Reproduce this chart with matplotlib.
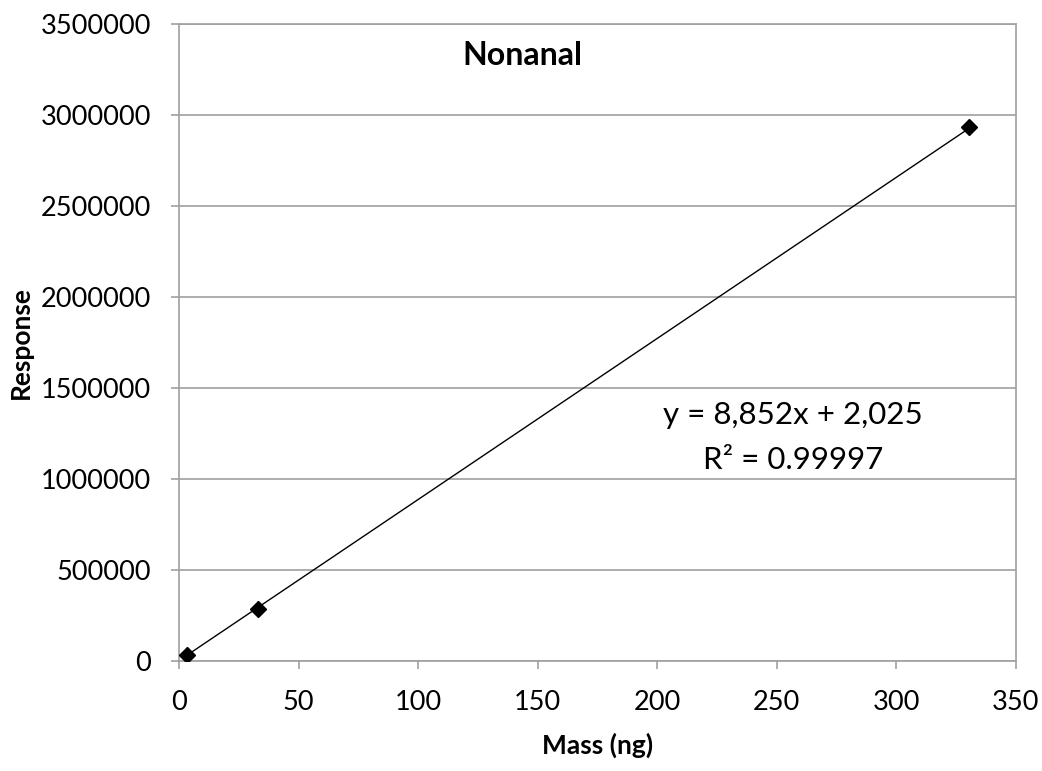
import matplotlib
matplotlib.use("Agg")
import matplotlib.pyplot as plt
import numpy as np

mass = [3.3, 33.0, 330.5]
response = [33000, 288000, 2933000]
slope = 8852
intercept = 2025
x_ticks = [0, 50, 100, 150, 200, 250, 300, 350]
y_ticks = [0, 500000, 1000000, 1500000, 2000000, 2500000, 3000000, 3500000]

plt.rcParams['font.family'] = ['Lato', 'DejaVu Sans']
fig = plt.figure(figsize=(10.42, 7.71), dpi=100)
ax = fig.add_axes([0.1718, 0.1427, 0.975 - 0.1718, 0.9689 - 0.1427])

xs = np.array([min(mass), max(mass)])
ax.plot(xs, slope * xs + intercept, color='black', lw=1.0, zorder=3)
ax.plot(mass, response, linestyle='none', marker='D', ms=8.5, color='black', zorder=4)

ax.set_xlim(0, 350)
ax.set_ylim(0, 3500000)
ax.set_xticks(x_ticks)
ax.set_yticks(y_ticks)
ax.set_xticklabels([str(v) for v in x_ticks])
ax.set_yticklabels([str(v) for v in y_ticks])
ax.grid(axis='y', color='#a0a0a0', lw=1.2)
ax.set_axisbelow(True)
for s in ax.spines.values():
    s.set_color('#a0a0a0')
    s.set_linewidth(1.2)
ax.tick_params(axis='both', colors='#a0a0a0', labelcolor='black', labelsize=19.5, length=6, width=1.2)
ax.tick_params(axis='x', pad=15)
ax.tick_params(axis='y', pad=14)

ax.set_xlabel('Mass (ng)', fontsize=19, fontweight='bold')
ax.set_ylabel('Response', fontsize=19, fontweight='bold')
ax.xaxis.set_label_coords(0.5, -0.112)
ax.yaxis.set_label_coords(-0.1744, 0.5)

ax.text(0.41, 0.951, 'Nonanal', transform=ax.transAxes, fontsize=23, fontweight='bold', ha='center', va='center')
ax.text(0.7336, 0.386, 'y = 8,852x + 2,025', transform=ax.transAxes, fontsize=22.5, ha='center', va='center')
ax.text(0.7336, 0.3155, 'R² = 0.99997', transform=ax.transAxes, fontsize=22.5, ha='center', va='center')

fig.savefig('out.png', dpi=100)
